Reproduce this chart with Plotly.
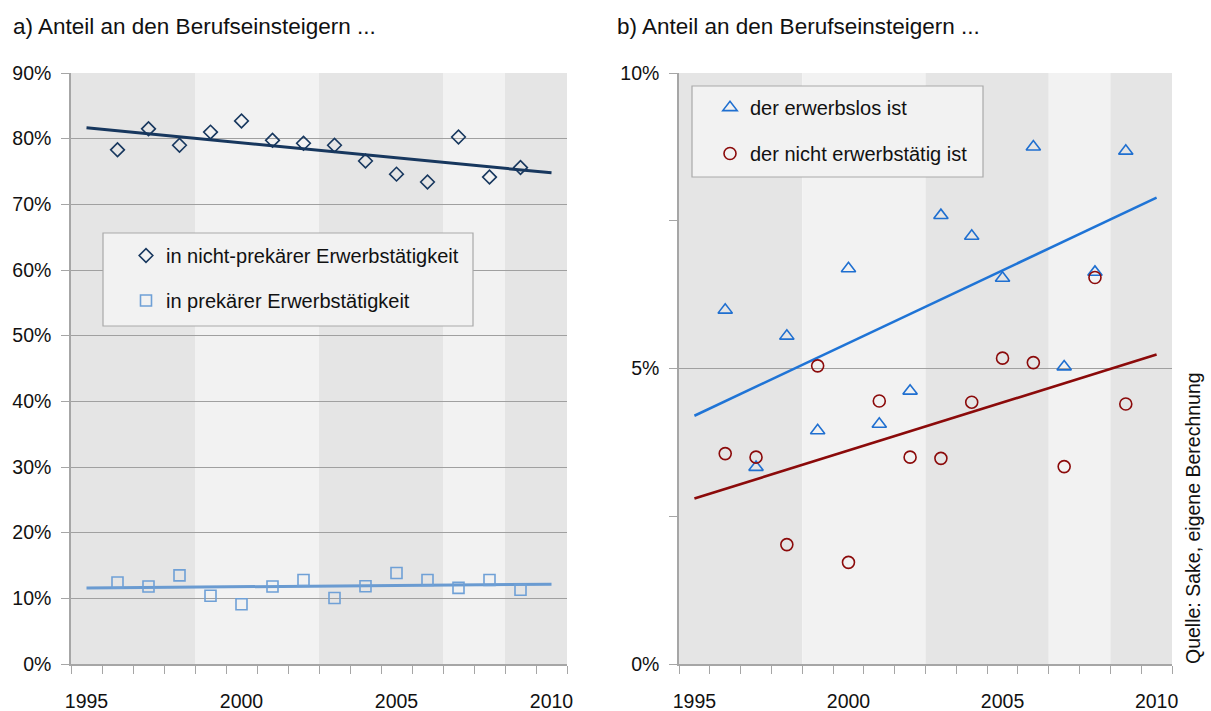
import numpy as np
import plotly.graph_objects as go

# ---- data (percent) ----
years = list(range(1996, 2010))
nicht_prekaer = [78.3, 81.5, 79.0, 81.0, 82.7, 79.75, 79.3, 79.0, 76.6, 74.6, 73.4, 80.25, 74.15, 75.6]
prekaer = [12.4, 11.8, 13.5, 10.4, 9.1, 11.8, 12.8, 10.05, 11.85, 13.85, 12.8, 11.6, 12.8, 11.3]
erwerbslos = [5.99, 3.33, 5.55, 3.95, 6.69, 4.06, 4.62, 7.59, 7.24, 6.53, 8.75, 5.03, 6.63, 8.68]
nicht_erwerbstaetig = [3.56, 3.50, 2.02, 5.045, 1.72, 4.45, 3.50, 3.48, 4.43, 5.175, 5.10, 3.34, 6.54, 4.40]
trend_years = [1995, 2010]
x_ticks = [1995, 2000, 2005, 2010]
y_ticks_b = [0, 5, 10]
y_ticktext_b = ["0%", "5%", "10%"]
# shaded periods (dark / light alternation)
band_edges = [1994.5, 1998.5, 2002.5, 2006.5, 2008.5, 2010.5]
band_colors = ["#e5e5e5", "#f2f2f2", "#e5e5e5", "#f2f2f2", "#e5e5e5"]

title_a = "a) Anteil an den Berufseinsteigern ..."
title_b = "b) Anteil an den Berufseinsteigern ..."
source = "Quelle: Sake, eigene Berechnung"

FONT = "Liberation Sans, Arial, sans-serif"
W, H = 1211, 711


def trend(vals):
    k, d = np.polyfit(years, vals, 1)
    return [k * t + d for t in trend_years]


fig = go.Figure()

# left panel
fig.add_trace(go.Scatter(x=trend_years, y=trend(nicht_prekaer), mode="lines",
                         line=dict(color="#17375e", width=3), showlegend=False,
                         xaxis="x", yaxis="y", hoverinfo="skip"))
fig.add_trace(go.Scatter(x=trend_years, y=trend(prekaer), mode="lines",
                         line=dict(color="#6a9bd1", width=3), showlegend=False,
                         xaxis="x", yaxis="y", hoverinfo="skip"))
fig.add_trace(go.Scatter(x=years, y=nicht_prekaer, mode="markers",
                         name="in nicht-prekärer Erwerbstätigkeit",
                         marker=dict(symbol="diamond-open", size=10.5, color="#17375e",
                                     line=dict(width=1.6, color="#17375e")),
                         xaxis="x", yaxis="y", legend="legend", legendgroup="a1"))
fig.add_trace(go.Scatter(x=years, y=prekaer, mode="markers",
                         name="in prekärer Erwerbstätigkeit",
                         marker=dict(symbol="square-open", size=11, color="#6fa0d6",
                                     line=dict(width=1.6, color="#6fa0d6")),
                         xaxis="x", yaxis="y", legend="legend", legendgroup="a2"))

# right panel
fig.add_trace(go.Scatter(x=trend_years, y=trend(erwerbslos), mode="lines",
                         line=dict(color="#1f74d6", width=2.6), showlegend=False,
                         xaxis="x2", yaxis="y2", hoverinfo="skip"))
fig.add_trace(go.Scatter(x=trend_years, y=trend(nicht_erwerbstaetig), mode="lines",
                         line=dict(color="#8b0a0a", width=2.6), showlegend=False,
                         xaxis="x2", yaxis="y2", hoverinfo="skip"))
fig.add_trace(go.Scatter(x=years, y=erwerbslos, mode="markers",
                         name="der erwerbslos ist",
                         marker=dict(symbol="triangle-up-open", size=12.5, color="#1f6fd0",
                                     line=dict(width=1.6, color="#1f6fd0")),
                         xaxis="x2", yaxis="y2", legend="legend2", legendgroup="b1"))
fig.add_trace(go.Scatter(x=years, y=nicht_erwerbstaetig, mode="markers",
                         name="der nicht erwerbstätig ist",
                         marker=dict(symbol="circle-open", size=12, color="#8b0a0a",
                                     line=dict(width=1.6, color="#8b0a0a")),
                         xaxis="x2", yaxis="y2", legend="legend2", legendgroup="b2"))

shapes = []
for xr in ("x", "x2"):
    yr = "y domain" if xr == "x" else "y2 domain"
    for i, c in enumerate(band_colors):
        shapes.append(dict(type="rect", xref=xr, yref=yr, x0=band_edges[i], x1=band_edges[i + 1],
                           y0=0, y1=1, fillcolor=c, line=dict(width=0), layer="below"))

# legend boxes
def px_rect(x0, y0, x1, y1):
    return dict(type="rect", xref="paper", yref="paper", x0=x0 / W, x1=x1 / W,
                y0=(H - y1) / H, y1=(H - y0) / H, fillcolor="#f2f2f2",
                line=dict(color="#a9a9a9", width=1.2), layer="above")

shapes.append(px_rect(103, 233, 473, 326))
shapes.append(px_rect(692, 86, 983, 177))

grid_col = "#a0a0a0"
axis_col = "#a6a6a6"
xdom_a = [71 / W, 567 / W]
xdom_b = [679 / W, 1172 / W]
ydom = [(H - 664) / H, (H - 73) / H]

xaxis_common = dict(range=[1994.5, 2010.5], tickmode="array", tickvals=x_ticks,
                    ticks="", showgrid=False, zeroline=False, showline=True,
                    automargin=False,
                    linecolor=axis_col, linewidth=1.5, ticklabelstandoff=19,
                    tickfont=dict(family=FONT, size=19.5, color="#111"),
                    minor=dict(tickmode="array", tickvals=[1994.5 + i for i in range(17)],
                               ticks="outside", ticklen=8, tickcolor=axis_col, tickwidth=1.2,
                               showgrid=False))

fig.update_layout(
    template="none",
    width=W, height=H, margin=dict(l=0, r=0, t=0, b=0, pad=0),
    paper_bgcolor="white", plot_bgcolor="white",
    font=dict(family=FONT, color="#111"),
    xaxis=dict(domain=xdom_a, anchor="y", **xaxis_common),
    xaxis2=dict(domain=xdom_b, anchor="y2", **xaxis_common),
    yaxis=dict(domain=ydom, anchor="x", range=[0, 90], dtick=10, tick0=0, ticksuffix="%",
               automargin=False,
               showgrid=True, gridcolor=grid_col, gridwidth=1, zeroline=False,
               showline=True, linecolor=axis_col, linewidth=1.5,
               ticks="outside", ticklen=8, tickcolor=axis_col, ticklabelstandoff=6,
               tickfont=dict(family=FONT, size=19.5, color="#111")),
    yaxis2=dict(domain=ydom, anchor="x2", range=[0, 10], tickmode="array",
                tickvals=y_ticks_b, ticktext=y_ticktext_b, automargin=False,
                showgrid=True, gridcolor=grid_col, gridwidth=1, zeroline=False,
                showline=True, linecolor=axis_col, linewidth=1.5,
                ticks="outside", ticklen=8, tickcolor=axis_col, ticklabelstandoff=6,
                tickfont=dict(family=FONT, size=19.5, color="#111"),
                minor=dict(tickmode="array", tickvals=[2.5, 7.5], ticks="outside",
                           ticklen=8, tickcolor=axis_col, showgrid=False)),
    legend=dict(x=126 / W, y=(H - 236) / H, xanchor="left", yanchor="top",
                bgcolor="rgba(0,0,0,0)", borderwidth=0, tracegroupgap=16,
                traceorder="grouped", font=dict(family=FONT, size=20, color="#111")),
    legend2=dict(x=710 / W, y=(H - 88) / H, xanchor="left", yanchor="top",
                 bgcolor="rgba(0,0,0,0)", borderwidth=0, tracegroupgap=17,
                 traceorder="grouped", font=dict(family=FONT, size=20, color="#111")),
    shapes=shapes,
    annotations=[
        dict(text=title_a, xref="paper", yref="paper", x=11 / W, y=(H - 26) / H,
             xanchor="left", yanchor="middle", showarrow=False,
             font=dict(family=FONT, size=22.5, color="#111")),
        dict(text=title_b, xref="paper", yref="paper", x=615 / W, y=(H - 26) / H,
             xanchor="left", yanchor="middle", showarrow=False,
             font=dict(family=FONT, size=22.5, color="#111")),
        dict(text=source, xref="paper", yref="paper", x=1193 / W, y=(H - 666) / H,
             xanchor="center", yanchor="bottom", textangle=-90, showarrow=False,
             font=dict(family=FONT, size=19.5, color="#111")),
    ],
    hovermode=False,
)

fig.write_html("out.html", config={"displayModeBar": False},
               post_script="document.body.style.margin='0';document.body.style.padding='0';")
